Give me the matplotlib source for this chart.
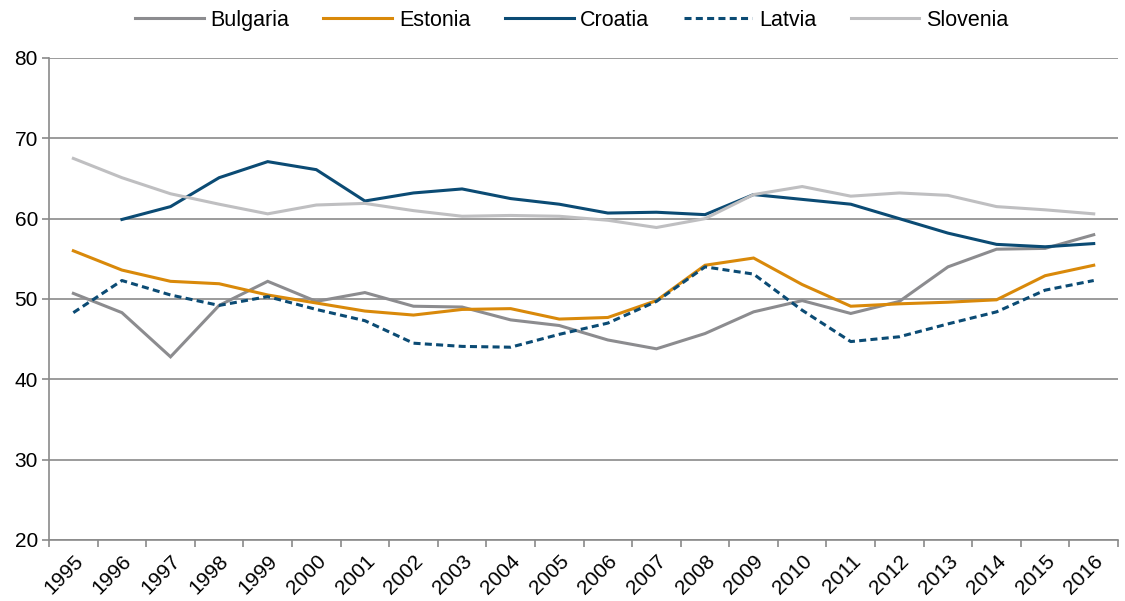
import matplotlib.pyplot as plt
import numpy as np

plt.rcParams["font.family"] = ["Liberation Sans", "DejaVu Sans"]

years = [str(y) for y in range(1995, 2017)]

bulgaria = [50.7, 48.3, 42.8, 49.2, 52.2, 49.7, 50.8, 49.1, 49.0, 47.4, 46.7,
            44.9, 43.8, 45.7, 48.4, 49.8, 48.2, 49.7, 54.0, 56.2, 56.3, 58.0]
estonia = [56.0, 53.6, 52.2, 51.9, 50.5, 49.5, 48.5, 48.0, 48.7, 48.8, 47.5,
           47.7, 49.8, 54.2, 55.1, 51.8, 49.1, 49.4, 49.6, 49.9, 52.9, 54.2]
croatia = [None, 59.9, 61.5, 65.1, 67.1, 66.1, 62.2, 63.2, 63.7, 62.5, 61.8,
           60.7, 60.8, 60.5, 63.0, 62.4, 61.8, 60.0, 58.2, 56.8, 56.5, 56.9]
latvia = [48.3, 52.3, 50.5, 49.2, 50.3, 48.7, 47.3, 44.5, 44.1, 44.0, 45.6,
          47.0, 49.7, 54.0, 53.1, 48.6, 44.7, 45.3, 46.9, 48.4, 51.1, 52.3]
slovenia = [67.5, 65.1, 63.1, 61.8, 60.6, 61.7, 61.9, 61.0, 60.3, 60.4, 60.3,
            59.8, 58.9, 60.0, 63.0, 64.0, 62.8, 63.2, 62.9, 61.5, 61.1, 60.6]

series = [
    ("Bulgaria", bulgaria, "#8c8c8f", "-"),
    ("Estonia", estonia, "#d9890a", "-"),
    ("Croatia", croatia, "#0b4b74", "-"),
    ("Latvia", latvia, "#0b4b74", (0, (2.3, 1.4))),
    ("Slovenia", slovenia, "#bfbfc1", "-"),
]

fig = plt.figure(figsize=(11.25, 6.01), dpi=100)
ax = fig.add_axes([0.0436, 0.1015, 0.9502, 0.802])

x = np.arange(len(years))
axis_grey = "#8a8a8a"

for name, vals, color, ls in series:
    y = np.array([np.nan if v is None else v for v in vals], dtype=float)
    ax.plot(x, y, color=color, linestyle=ls, linewidth=2.2, label=name,
            solid_joinstyle="miter", zorder=3)

ax.set_xlim(-0.5, len(years) - 0.5)
ax.set_ylim(20, 80)
ax.set_yticks(range(20, 81, 10))
ax.grid(axis="y", color=axis_grey, linewidth=1.2, zorder=1)
ax.set_axisbelow(True)

# category boundaries carry tick marks, labels sit at category centres
ax.set_xticks(np.arange(-0.5, len(years), 1.0))
ax.set_xticklabels([])
ax.set_xticks(x, minor=True)
ax.set_xticklabels(years, minor=True, rotation=45, ha="right",
                   rotation_mode="anchor", fontsize=15)
ax.tick_params(axis="x", which="minor", length=0, pad=8)
ax.tick_params(axis="x", which="major", length=5, width=1.2, color=axis_grey)
ax.tick_params(axis="y", length=5, width=1.2, color=axis_grey, labelsize=15, pad=3)

for side in ["top", "right"]:
    ax.spines[side].set_visible(False)
for side in ["left", "bottom"]:
    ax.spines[side].set_color(axis_grey)
    ax.spines[side].set_linewidth(1.2)

fig.legend(loc="center", bbox_to_anchor=(0.508, 0.966), ncol=5, frameon=False,
           fontsize=15.5, handlelength=3.2, handletextpad=0.3, columnspacing=1.6)

fig.savefig("out.png", dpi=100)
